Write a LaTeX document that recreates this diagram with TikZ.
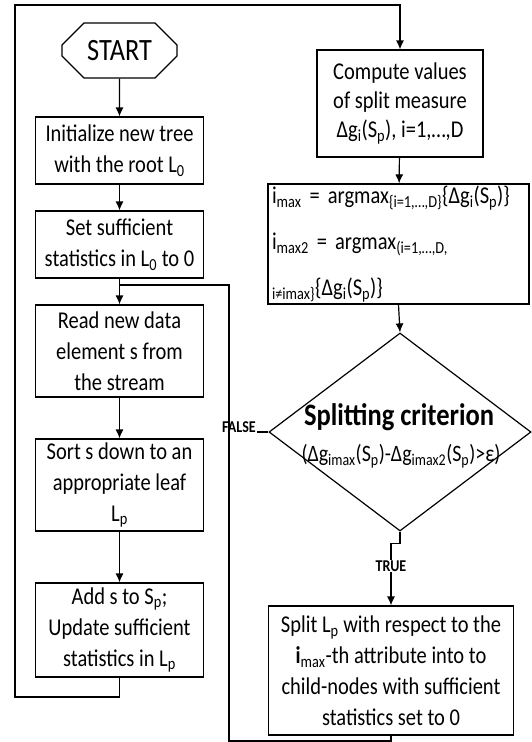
\documentclass[tikz,border=0pt]{standalone}
\usepackage{fontspec}
\setmainfont{Carlito}[FakeStretch=0.85]
\usetikzlibrary{arrows.meta,shapes.geometric,shapes.misc}
\newcommand\sbs[1]{\textsubscript{#1}}
\newcommand\fs{\fontsize{24.1}{31}\selectfont}
\tikzset{
  box/.style={draw, line width=1.2pt, align=center, inner sep=2pt, font=\fs},
  arr/.style={-{Latex[length=9pt,width=8pt]}, line width=1.2pt},
  ln/.style={line width=1.2pt},
  lbl/.style={font=\fontsize{16.5}{18}\selectfont\bfseries, inner sep=1pt},
}
\begin{document}
\begin{tikzpicture}[x=1pt,y=-1pt]
\useasboundingbox (0,0) rectangle (531,742);
% left column
\node[box, chamfered rectangle, chamfered rectangle xsep=11pt, chamfered rectangle ysep=11pt,
      minimum width=115pt, minimum height=55pt, font=\fontsize{31}{34}\selectfont] (start) at (119.5,50.5) {START};
\node[box, minimum width=168pt, minimum height=67pt] (init) at (119.5,150.5) {Initialize new tree\\with the root L\sbs{0}};
\node[box, minimum width=168pt, minimum height=67pt] (set) at (119.5,244.5) {Set sufficient\\statistics in L\sbs{0} to 0};
\node[box, minimum width=168pt, minimum height=92pt] (read) at (119.5,351) {Read new data\\element s from\\the stream};
\node[box, minimum width=168pt, minimum height=92pt] (sort) at (119.5,485) {Sort s down to an\\appropriate leaf\\L\sbs{p}};
\node[box, minimum width=168pt, minimum height=94pt] (add) at (119.5,630) {Add s to S\sbs{p};\\Update sufficient\\statistics in L\sbs{p}};
% right column
\node[box, minimum width=166pt, minimum height=107pt, font=\fontsize{24.1}{29}\selectfont] (comp) at (400,103.5) {Compute values\\of split measure\\Δg\sbs{i}(S\sbs{p}), i=1,…,D};
\node[box, minimum width=261pt, minimum height=120pt, text width=253pt, align=left, inner xsep=4pt,
      font=\fontsize{24.1}{46}\selectfont] (argm) at (398.5,244)
  {i\sbs{max} = argmax\sbs{\{i=1,…,D\}}\{Δg\sbs{i}(S\sbs{p})\}\\
   i\sbs{max2} = argmax\sbs{(i=1,…,D,}\\
   \sbs{i≠imax\}}\{Δg\sbs{i}(S\sbs{p})\}};
\node[draw, diamond, line width=1.2pt, minimum width=262pt, minimum height=198pt, inner sep=0pt] (dia) at (400,432) {};
\node[inner sep=0pt, font=\fontsize{31.2}{34}\selectfont\bfseries] (crit) at (399,417) {Splitting criterion};
\node[inner sep=0pt, font=\fontsize{23.5}{26}\selectfont] (form) at (401,456) {(Δg\sbs{imax}(S\sbs{p})-Δg\sbs{imax2}(S\sbs{p})>ε)};
\node[box, minimum width=245pt, minimum height=129pt] (split) at (391,670.5)
  {Split L\sbs{p} with respect to the\\\textbf{i}\sbs{max}-th attribute into to\\child-nodes with sufficient\\statistics set to 0};
% coordinates of the loops
\coordinate (fl) at (15,697);
\coordinate (ftl) at (15,5);
\coordinate (fj) at (229,432);
\coordinate (lb) at (229,741);
\coordinate (lj) at (119.5,285);
% connectors
\draw[arr] (start) -- (init);
\draw[arr] (init) -- (set);
\draw[arr] (set) -- (read);
\draw[arr] (read) -- (sort);
\draw[arr] (sort) -- (add);
\draw[arr] (add.south) |- (fl) -- (ftl) -| (comp.north);
\draw[arr] (comp) -- (argm);
\draw[arr] (argm.south) -- (dia.north);
\draw[arr] (dia.south) -- ++(0,12) -| (split.north);
\node[lbl, fill=white] (true) at (391,566) {TRUE};
\draw[ln] (dia.west) -- (fj);
\node[lbl, fill=white, anchor=base] (false) at (239,432) {FALSE};
\draw[ln] (split.south) |- (lb) |- (lj);
\end{tikzpicture}
\end{document}
